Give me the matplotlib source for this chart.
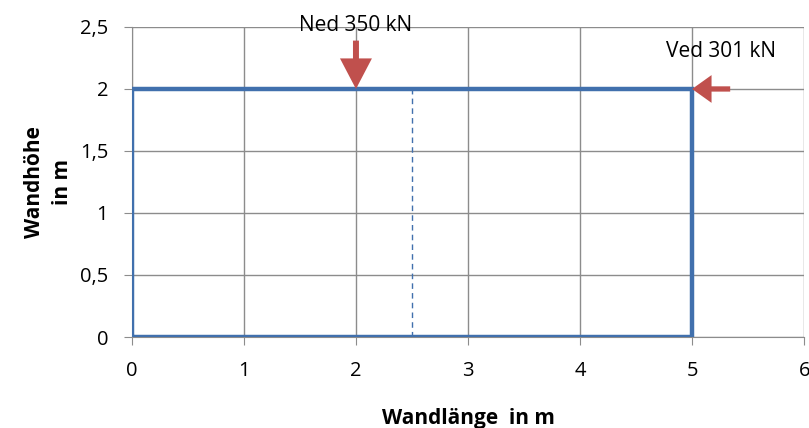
import matplotlib.pyplot as plt

plt.rcParams['font.family'] = ['Open Sans', 'DejaVu Sans']

# Wandumriss (Länge x Höhe in m)
wand_x = [0, 0, 5, 5, 0]
wand_y = [0, 2, 2, 0, 0]
mitte_x = [2.5, 2.5]
mitte_y = [0, 2]

# Lasten
ned_kn = 350
ned_x = 2
ved_kn = 301
ved_y = 2

blau = '#4170ad'
rot = '#c0504d'

fig = plt.figure(figsize=(8.09, 4.28), dpi=100)
ax = fig.add_axes([0.163, 0.2126, 0.831, 0.7244])

ax.plot(wand_x, wand_y, color=blau, lw=3.2, solid_joinstyle='miter', zorder=3)
ax.plot(mitte_x, mitte_y, color=blau, lw=1, ls=(0, (4, 3)), zorder=3)

# Normalkraft von oben
ax.annotate('', xy=(ned_x, 2.0), xytext=(ned_x, 2.39),
            arrowprops=dict(width=4.3, headwidth=23, headlength=22,
                            facecolor=rot, edgecolor='none', shrink=0), zorder=4)
ax.text(ned_x, 2.51, f'Ned {ned_kn} kN', ha='center', va='center', fontsize=15)

# Querkraft von rechts
ax.annotate('', xy=(5.0, ved_y), xytext=(5.34, ved_y),
            arrowprops=dict(width=3.8, headwidth=20, headlength=14,
                            facecolor=rot, edgecolor='none', shrink=0), zorder=4)
ax.text(5.26, 2.30, f'Ved {ved_kn} kN', ha='center', va='center', fontsize=15)

ax.set_xlim(0, 6)
ax.set_ylim(0, 2.5)
ax.set_xticks(range(7))
ax.set_yticks([0, 0.5, 1, 1.5, 2, 2.5])
ax.set_yticklabels(['0', '0,5', '1', '1,5', '2', '2,5'])
ax.grid(True, color='#8c8c8c', lw=1)
ax.set_axisbelow(True)
for s in ['top', 'right']:
    ax.spines[s].set_visible(False)
for s in ['left', 'bottom']:
    ax.spines[s].set_color('#8c8c8c')
ax.tick_params(length=6, color='#8c8c8c', labelsize=14.5)
ax.tick_params(axis='x', pad=11)
ax.tick_params(axis='y', pad=11)

ax.set_xlabel('Wandlänge  in m', fontsize=15, fontweight='bold', labelpad=20)
ax.set_ylabel('Wandhöhe\nin m', fontsize=15, fontweight='bold', labelpad=5,
              linespacing=1.45)

fig.savefig('out.png', dpi=100)
